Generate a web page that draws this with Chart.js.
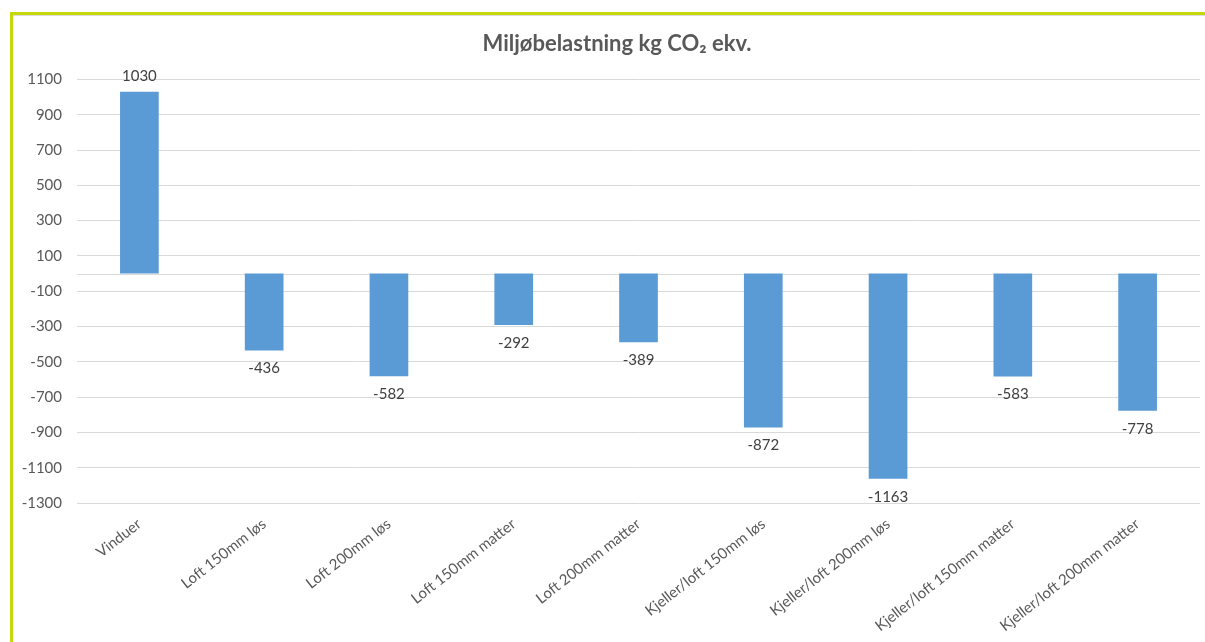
<!DOCTYPE html>
<html>
<head>
<meta charset="utf-8">
<script src="https://cdn.jsdelivr.net/npm/chart.js@4/dist/chart.umd.min.js"></script>
<style>
  html, body { margin: 0; padding: 0; background: #fff; overflow: hidden; }
  #frame {
    position: absolute; left: 10px; top: 12px; width: 1220px; height: 650px;
    border-left: 3px solid #c5d90a; border-top: 3px solid #c5d90a;
    box-shadow: inset 0 1px 0 #dcdcdc;
  }
  #wrap { position: absolute; left: 13px; top: 15px; width: 1208px; height: 627px; }
</style>
</head>
<body>
<div id="frame"></div>
<div id="wrap"><canvas id="co2-chart"></canvas></div>
<script>
// Miljøbelastning per tiltak (kg CO2 ekv.)
const categories = [
  'Vinduer', 'Loft 150mm løs', 'Loft 200mm løs', 'Loft 150mm matter', 'Loft 200mm matter',
  'Kjeller/loft 150mm løs', 'Kjeller/loft 200mm løs', 'Kjeller/loft 150mm matter', 'Kjeller/loft 200mm matter'
];
const co2Values = [1030, -436, -582, -292, -389, -872, -1163, -583, -778];
const yMin = -1300;
const yMax = 1100;
const yStep = 200;

const textColor = '#595959';
const gridColor = '#d9d9d9';

// zero line (category axis crosses at 0, like in Excel)
const zeroLine = {
  id: 'zeroLine',
  beforeDatasetsDraw(chart) {
    const { ctx, chartArea, scales } = chart;
    const y = Math.round(scales.y.getPixelForValue(0)) + 0.5;
    ctx.save();
    ctx.strokeStyle = gridColor;
    ctx.lineWidth = 1;
    ctx.beginPath();
    ctx.moveTo(chartArea.left, y);
    ctx.lineTo(chartArea.right, y);
    ctx.stroke();
    ctx.restore();
  }
};

// value labels outside end of each bar
const valueLabels = {
  id: 'valueLabels',
  afterDatasetsDraw(chart) {
    const { ctx } = chart;
    const meta = chart.getDatasetMeta(0);
    ctx.save();
    ctx.font = '15px Lato';
    ctx.fillStyle = '#404040';
    ctx.textAlign = 'center';
    ctx.textBaseline = 'middle';
    meta.data.forEach((bar, i) => {
      const v = co2Values[i];
      const y = v >= 0 ? bar.y - 16 : bar.y + 18;
      ctx.fillText(String(v), bar.x, y);
    });
    ctx.restore();
  }
};

new Chart(document.getElementById('co2-chart'), {
  type: 'bar',
  data: {
    labels: categories,
    datasets: [{
      data: co2Values,
      backgroundColor: '#5b9bd5',
      borderWidth: 0,
      categoryPercentage: 1,
      barPercentage: 0.31
    }]
  },
  options: {
    responsive: true,
    maintainAspectRatio: false,
    animation: false,
    layout: { padding: 0 },
    plugins: {
      legend: { display: false },
      tooltip: { enabled: false },
      title: {
        display: true,
        text: 'Miljøbelastning kg CO₂ ekv.',
        color: textColor,
        font: { family: 'Lato', size: 22, weight: 'bold' },
        padding: { top: 16, bottom: 22 }
      }
    },
    scales: {
      x: {
        grid: { display: false, drawTicks: false },
        border: { display: false },
        ticks: {
          color: textColor,
          font: { family: 'Lato', size: 15 },
          minRotation: 38,
          maxRotation: 38,
          autoSkip: false,
          padding: 12
        },
        afterFit(scale) { scale.height = 139; }
      },
      y: {
        min: yMin,
        max: yMax,
        grid: { color: gridColor, drawTicks: false },
        border: { display: false },
        ticks: {
          stepSize: yStep,
          color: textColor,
          font: { family: 'Lato', size: 15 },
          padding: 15,
          callback: (value) => String(value)
        },
        afterFit(scale) { scale.width = 64; }
      },
      // empty right-hand spacer so the title stays centred on the whole frame
      spacer: {
        type: 'linear',
        position: 'right',
        grid: { display: false, drawTicks: false },
        border: { display: false },
        ticks: { display: false },
        afterFit(scale) { scale.width = 21; }
      }
    }
  },
  plugins: [zeroLine, valueLabels]
});
</script>
</body>
</html>
